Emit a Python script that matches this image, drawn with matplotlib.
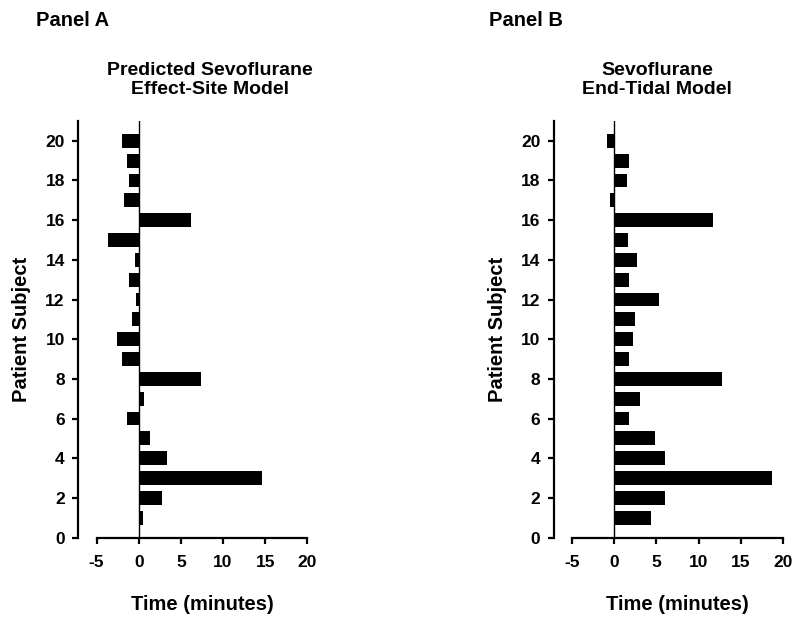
import matplotlib
matplotlib.use("Agg")
import matplotlib.pyplot as plt

plt.rcParams["font.family"] = ["Liberation Sans", "DejaVu Sans"]
plt.rcParams["font.weight"] = "bold"

# Patient subjects 1..20
subjects = list(range(1, 21))

# Panel A: predicted sevoflurane effect-site model (minutes)
effect_site = [0.55, 2.8, 14.6, 3.4, 1.4, -1.4, 0.65, 7.4, -2.0, -2.6,
               -0.75, -0.3, -1.2, -0.4, -3.65, 6.15, -1.8, -1.15, -1.4, -2.0]

# Panel B: sevoflurane end-tidal model (minutes)
end_tidal = [4.3, 6.0, 18.65, 6.0, 4.85, 1.8, 3.1, 12.8, 1.7, 2.25,
             2.4, 5.3, 1.7, 2.65, 1.6, 11.7, -0.45, 1.5, 1.7, -0.85]

x_ticks = [-5, 0, 5, 10, 15, 20]
y_ticks = [0, 2, 4, 6, 8, 10, 12, 14, 16, 18, 20]


def draw_panel(ax, values):
    ax.barh(subjects, values, height=0.7, color="black")
    ax.axvline(0, color="black", linewidth=1)
    ax.set_xlim(-7.2, 20)
    ax.set_ylim(0, 21)
    ax.set_xticks(x_ticks)
    ax.set_xticklabels([str(t) for t in x_ticks])
    ax.set_yticks(y_ticks)
    ax.spines["top"].set_visible(False)
    ax.spines["right"].set_visible(False)
    ax.spines["left"].set_linewidth(1.6)
    ax.spines["bottom"].set_linewidth(1.6)
    ax.spines["bottom"].set_bounds(-5, 20)
    ax.tick_params(axis="x", direction="out", length=4.5, width=1.6, pad=8, labelsize=12.5)
    ax.tick_params(axis="y", direction="out", length=4.5, width=1.6, pad=5, labelsize=12.5)
    for lab in ax.get_xticklabels() + ax.get_yticklabels():
        lab.set_fontweight("bold")
    ax.set_xlabel("Time (minutes)", fontsize=14.5, fontweight="bold")
    # centre the label under the -5..20 part of the x axis
    ax.xaxis.set_label_coords((-5 + 7.2 + 12.5) / 27.2, -0.137)
    ax.set_ylabel("Patient Subject", fontsize=14.5, fontweight="bold", labelpad=10)


fig = plt.figure(figsize=(8.0, 6.22), dpi=100)

ax_a = fig.add_axes([0.0975, 0.1358, 0.2866, 0.6697])
ax_b = fig.add_axes([0.692, 0.1358, 0.2866, 0.6697])

draw_panel(ax_a, effect_site)
draw_panel(ax_b, end_tidal)

fig.text(36 / 800, 1 - 20 / 622, "Panel A", fontsize=14.5, fontweight="bold", va="center", ha="left")
fig.text(489 / 800, 1 - 20 / 622, "Panel B", fontsize=14.5, fontweight="bold", va="center", ha="left")

fig.text(210 / 800, 1 - 80 / 622, "Predicted Sevoflurane\nEffect-Site Model",
         fontsize=14, fontweight="bold", ha="center", va="center", linespacing=1.15)
fig.text(657 / 800, 1 - 80 / 622, "Sevoflurane\nEnd-Tidal Model",
         fontsize=14, fontweight="bold", ha="center", va="center", linespacing=1.15)

fig.savefig("out.png", dpi=100)
